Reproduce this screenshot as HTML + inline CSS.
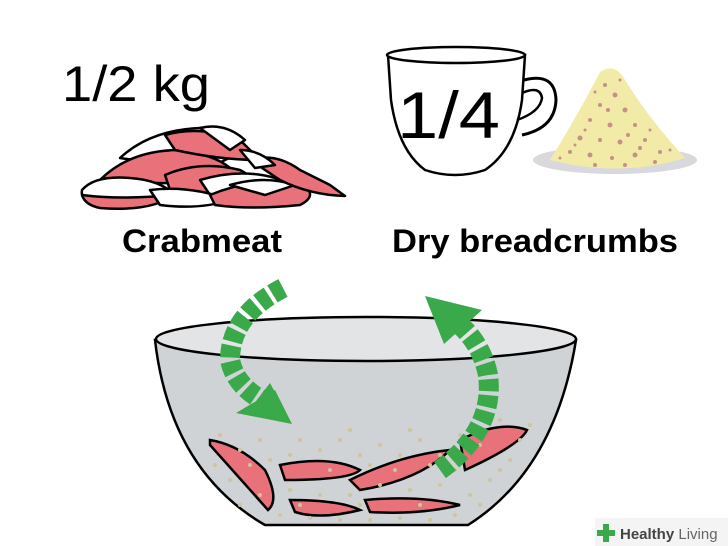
<!DOCTYPE html>
<html><head><style>html,body{margin:0;padding:0;background:#fff}svg{display:block}</style></head><body>
<svg width="728" height="546" viewBox="0 0 728 546" xmlns="http://www.w3.org/2000/svg" font-family="Liberation Sans, sans-serif">
<text x="62" y="101" font-size="50" textLength="148" lengthAdjust="spacingAndGlyphs">1/2 kg</text>
<g stroke="#000" stroke-width="2.5" stroke-linejoin="round">
<path d="M120 158 Q150 130 200 128 Q235 135 245 150 L215 165 Q165 165 120 158Z" fill="#fff"/>
<path d="M100 180 Q130 150 180 150 Q215 155 230 168 L200 182 Q150 185 100 180Z" fill="#e8717a"/>
<path d="M165 135 Q200 125 240 140 L260 160 Q220 160 175 150Z" fill="#e8717a"/>
<path d="M200 128 Q225 122 245 140 L230 150Z" fill="#fff"/>
<path d="M82 190 Q95 175 130 178 Q160 180 175 195 Q140 210 95 205 Q80 200 82 190Z" fill="#fff"/>
<path d="M82 195 Q120 200 175 195 Q150 212 100 208 Q85 205 82 195Z" fill="#e8717a"/>
<path d="M165 175 Q200 160 240 170 Q260 180 245 192 Q205 200 170 190Z" fill="#e8717a"/>
<path d="M200 180 Q240 168 275 178 L290 190 Q250 200 210 195Z" fill="#fff"/>
<path d="M150 190 Q190 185 230 200 Q200 210 160 205Z" fill="#fff"/>
<path d="M210 195 Q250 178 300 182 Q320 195 300 205 Q250 210 215 205Z" fill="#e8717a"/>
<path d="M230 185 Q265 175 295 185 L265 195Z" fill="#fff"/>
<path d="M250 160 Q275 152 300 170 L330 185 L345 196 Q310 195 280 180Z" fill="#e8717a"/>
<path d="M240 150 Q260 150 275 165 L255 168Z" fill="#fff"/>
</g>
<text x="122" y="252" font-size="32" font-weight="bold" textLength="160" lengthAdjust="spacingAndGlyphs">Crabmeat</text>
<g stroke="#000" stroke-width="2.5" fill="#fff">
<path d="M388 55 L391 100 Q398 150 425 170 Q455 180 485 170 Q515 150 522 100 L525 55Z"/>
<ellipse cx="456" cy="55" rx="69" ry="8"/>
<path d="M524 80 Q555 72 556 100 Q555 128 522 135" fill="none" stroke-width="3"/>
<path d="M522 93 Q540 85 542 98 Q540 112 517 120" fill="none" stroke-width="2.5"/>
</g>
<text x="397" y="138" font-size="66" textLength="103" lengthAdjust="spacingAndGlyphs">1/4</text>
<ellipse cx="615" cy="160" rx="82" ry="14" fill="#d9d9dd"/>
<path d="M600 72 Q615 62 625 80 Q650 120 685 158 Q620 178 550 160 Q575 120 600 72Z" fill="#f2eba8"/>
<g fill="#c4918a">
<circle cx="605" cy="85" r="2"/><circle cx="615" cy="95" r="2.5"/><circle cx="600" cy="105" r="2"/><circle cx="625" cy="110" r="2.5"/><circle cx="590" cy="120" r="2"/><circle cx="610" cy="125" r="2.5"/><circle cx="635" cy="125" r="2"/><circle cx="580" cy="138" r="2.5"/><circle cx="600" cy="140" r="2"/><circle cx="620" cy="142" r="2.5"/><circle cx="645" cy="140" r="2"/><circle cx="570" cy="152" r="2"/><circle cx="590" cy="155" r="2.5"/><circle cx="612" cy="158" r="2"/><circle cx="635" cy="155" r="2.5"/><circle cx="660" cy="152" r="2"/><circle cx="655" cy="162" r="2"/><circle cx="595" cy="165" r="2"/>
<circle cx="608" cy="110" r="2"/><circle cx="595" cy="92" r="1.5"/><circle cx="620" cy="80" r="1.5"/><circle cx="585" cy="130" r="1.5"/><circle cx="628" cy="135" r="2"/><circle cx="650" cy="130" r="1.5"/><circle cx="575" cy="145" r="1.5"/><circle cx="640" cy="148" r="2"/><circle cx="670" cy="150" r="1.5"/><circle cx="560" cy="158" r="1.5"/><circle cx="625" cy="165" r="2"/>
</g>
<text x="392" y="252" font-size="32" font-weight="bold" textLength="286" lengthAdjust="spacingAndGlyphs">Dry breadcrumbs</text>
<path d="M155 340 Q170 470 265 525 L468 525 Q555 470 576 340Z" fill="#d0d3d6" stroke="#000" stroke-width="2.5"/>
<ellipse cx="366" cy="339" rx="210" ry="22" fill="#e2e4e6" stroke="#000" stroke-width="2.5"/>
<g stroke="#000" stroke-width="2.5" fill="#e8717a">
<path d="M210 440 Q240 445 265 470 Q280 500 268 510 Q250 490 210 445Z"/>
<path d="M280 465 Q330 455 360 470 Q350 480 285 480Z"/>
<path d="M350 480 Q400 455 450 450 Q420 480 360 490Z"/>
<path d="M460 440 Q500 420 527 430 Q520 445 465 470Z"/>
<path d="M290 500 Q340 500 360 510 Q320 520 295 512Z"/>
<path d="M365 500 Q420 495 460 505 Q420 515 370 512Z"/>
</g>
<g fill="#cfc49a">
<circle cx="220" cy="435" r="2"/><circle cx="240" cy="450" r="2"/><circle cx="260" cy="440" r="2"/><circle cx="300" cy="440" r="2"/><circle cx="320" cy="450" r="2"/><circle cx="340" cy="440" r="2"/><circle cx="360" cy="455" r="2"/><circle cx="380" cy="445" r="2"/><circle cx="400" cy="455" r="2"/><circle cx="420" cy="440" r="2"/><circle cx="440" cy="455" r="2"/><circle cx="460" cy="435" r="2"/><circle cx="480" cy="445" r="2"/><circle cx="500" cy="420" r="2"/><circle cx="510" cy="460" r="2"/><circle cx="230" cy="480" r="2"/><circle cx="260" cy="495" r="2"/><circle cx="290" cy="490" r="2"/><circle cx="320" cy="495" r="2"/><circle cx="350" cy="495" r="2"/><circle cx="380" cy="485" r="2"/><circle cx="410" cy="490" r="2"/><circle cx="440" cy="485" r="2"/><circle cx="470" cy="495" r="2"/><circle cx="490" cy="480" r="2"/><circle cx="280" cy="515" r="2"/><circle cx="310" cy="518" r="2"/><circle cx="340" cy="520" r="2"/><circle cx="370" cy="520" r="2"/><circle cx="400" cy="518" r="2"/><circle cx="430" cy="520" r="2"/><circle cx="455" cy="515" r="2"/><circle cx="270" cy="460" r="2"/><circle cx="330" cy="470" r="2"/><circle cx="395" cy="470" r="2"/><circle cx="455" cy="470" r="2"/><circle cx="520" cy="440" r="2"/>
<circle cx="250" cy="465" r="2"/><circle cx="290" cy="455" r="2"/><circle cx="370" cy="465" r="2"/><circle cx="430" cy="465" r="2"/><circle cx="500" cy="470" r="2"/><circle cx="240" cy="505" r="2"/><circle cx="300" cy="505" r="2"/><circle cx="360" cy="505" r="2"/><circle cx="420" cy="505" r="2"/><circle cx="480" cy="505" r="2"/><circle cx="215" cy="465" r="2"/><circle cx="350" cy="430" r="2"/><circle cx="410" cy="430" r="2"/><circle cx="530" cy="425" r="2"/>
</g>
<g fill="none" stroke="#3aa94a" stroke-width="20" stroke-dasharray="12 4">
<path d="M283 288 Q230 315 230 360 Q235 385 262 400"/>
<path d="M440 470 Q495 430 488 375 Q482 345 460 325"/>
</g>
<path d="M275 390 L292 424 L236 413Z M253 405 L270 383 L292 424Z" fill="#3aa94a"/>
<polygon points="425,296 482,310 444,344" fill="#3aa94a"/>
<rect x="595" y="518" width="133" height="28" fill="#f3f3f3" opacity="0.9"/>
<path d="M603 524 h6 v6 h6 v6 h-6 v6 h-6 v-6 h-6 v-6 h6z" fill="#3aa94a"/>
<text x="620" y="539" font-size="15" font-weight="bold" fill="#444">Healthy <tspan font-weight="normal" fill="#666">Living</tspan></text>
</svg>
</body></html>
